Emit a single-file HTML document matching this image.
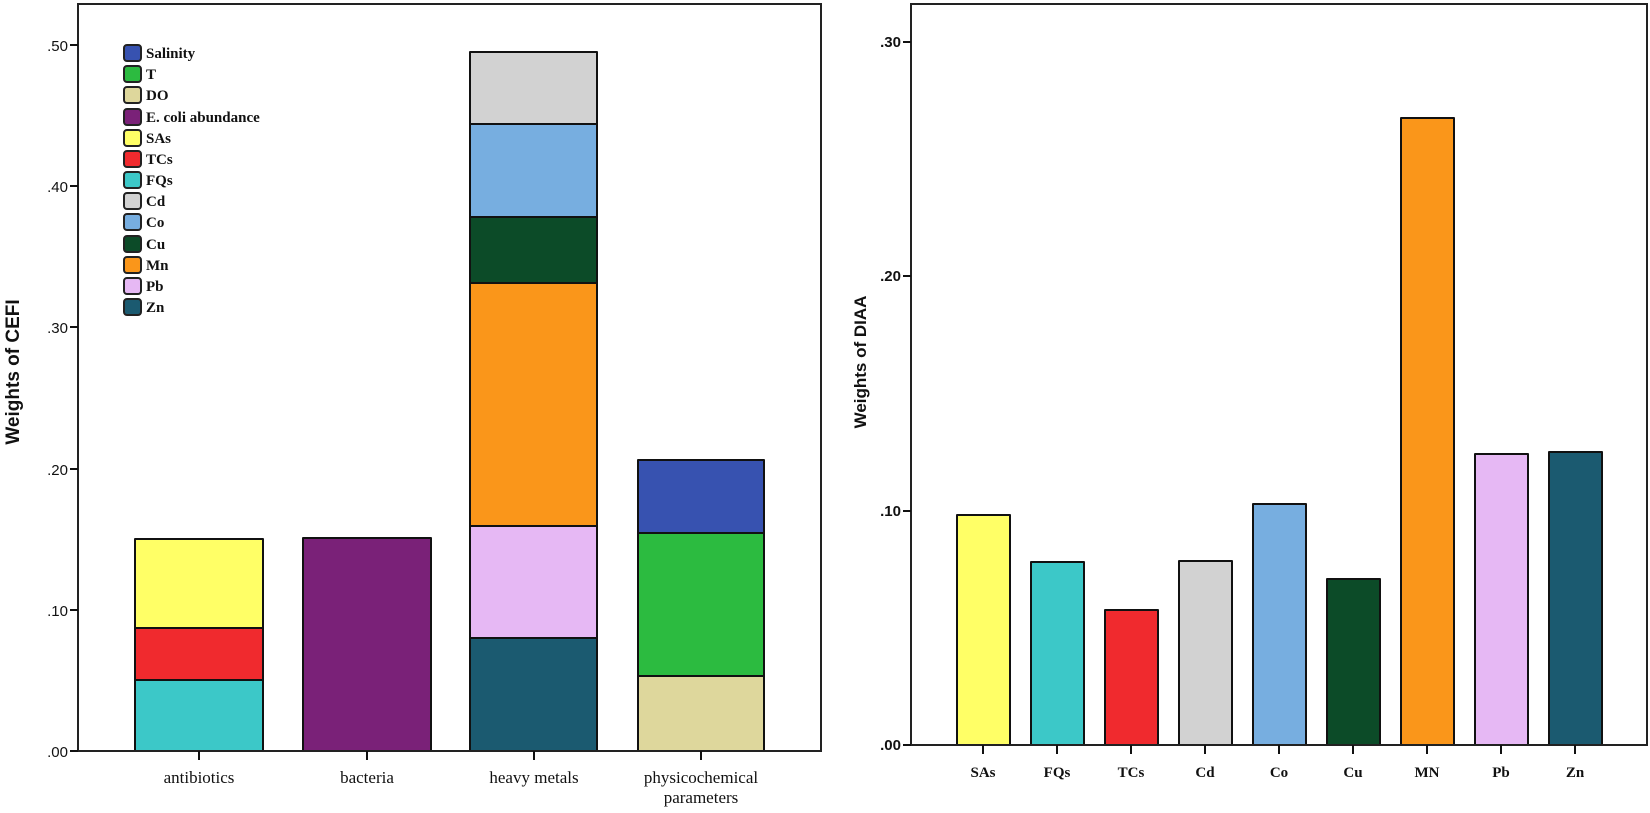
<!DOCTYPE html>
<html><head><meta charset="utf-8"><style>
html,body{margin:0;padding:0;background:#fff;}
svg{display:block}
.t{font-family:"Liberation Sans",sans-serif;font-size:15px;fill:#111;}
.s{font-family:"Liberation Serif",serif;font-size:16px;fill:#111;font-weight:bold;}
.c{font-family:"Liberation Serif",serif;font-size:17px;fill:#111;}
.l{font-family:"Liberation Serif",serif;font-size:15px;fill:#111;font-weight:bold;}
</style></head><body>
<svg width="1650" height="813" viewBox="0 0 1650 813" xmlns="http://www.w3.org/2000/svg">
<g stroke="#111" stroke-width="2" stroke-linejoin="round">
<rect x="135" y="680" width="128" height="71" fill="#3cc8c8"/>
<rect x="135" y="628" width="128" height="52" fill="#f02a2e"/>
<rect x="135" y="539" width="128" height="89" fill="#ffff66"/>
<rect x="303" y="538" width="128" height="213" fill="#7a2178"/>
<rect x="470" y="638" width="127" height="113" fill="#1b5a70"/>
<rect x="470" y="526" width="127" height="112" fill="#e6b8f4"/>
<rect x="470" y="283" width="127" height="243" fill="#fa961a"/>
<rect x="470" y="217" width="127" height="66" fill="#0c4b28"/>
<rect x="470" y="124" width="127" height="93" fill="#77aee0"/>
<rect x="470" y="52" width="127" height="72" fill="#d2d2d2"/>
<rect x="638" y="676" width="126" height="75" fill="#ded79c"/>
<rect x="638" y="533" width="126" height="143" fill="#2cbb40"/>
<rect x="638" y="460" width="126" height="73" fill="#3752b0"/>
</g>
<path d="M78 751 V4 H821 V751 H78" fill="none" stroke="#222" stroke-width="2"/>
<g stroke="#111" stroke-width="2">
<line x1="70" y1="45" x2="78" y2="45"/><line x1="70" y1="186" x2="78" y2="186"/>
<line x1="70" y1="327" x2="78" y2="327"/><line x1="70" y1="469" x2="78" y2="469"/>
<line x1="70" y1="610" x2="78" y2="610"/><line x1="70" y1="751" x2="78" y2="751"/>
<line x1="199" y1="751" x2="199" y2="760"/><line x1="367" y1="751" x2="367" y2="760"/>
<line x1="534" y1="751" x2="534" y2="760"/><line x1="701" y1="751" x2="701" y2="760"/>
</g>
<g class="t" text-anchor="end">
<text x="68" y="51">.50</text><text x="68" y="192">.40</text><text x="68" y="333">.30</text>
<text x="68" y="475">.20</text><text x="68" y="616">.10</text><text x="68" y="757">.00</text>
</g>
<g class="c" text-anchor="middle">
<text x="199" y="783">antibiotics</text><text x="367" y="783">bacteria</text>
<text x="534" y="783">heavy metals</text><text x="701" y="783">physicochemical</text>
<text x="701" y="803">parameters</text>
</g>
<text transform="translate(19,372) rotate(-90)" text-anchor="middle" style="font-family:'Liberation Sans',sans-serif;font-weight:bold;font-size:19px;fill:#111">Weights of CEFI</text>
<g stroke="#222" stroke-width="2">
<rect x="124" y="45" width="17" height="16" rx="3" fill="#3752b0"/>
<rect x="124" y="66" width="17" height="16" rx="3" fill="#2cbb40"/>
<rect x="124" y="87" width="17" height="16" rx="3" fill="#ded79c"/>
<rect x="124" y="109" width="17" height="16" rx="3" fill="#7a2178"/>
<rect x="124" y="130" width="17" height="16" rx="3" fill="#ffff66"/>
<rect x="124" y="151" width="17" height="16" rx="3" fill="#f02a2e"/>
<rect x="124" y="172" width="17" height="16" rx="3" fill="#3cc8c8"/>
<rect x="124" y="193" width="17" height="16" rx="3" fill="#d2d2d2"/>
<rect x="124" y="214" width="17" height="16" rx="3" fill="#77aee0"/>
<rect x="124" y="236" width="17" height="16" rx="3" fill="#0c4b28"/>
<rect x="124" y="257" width="17" height="16" rx="3" fill="#fa961a"/>
<rect x="124" y="278" width="17" height="16" rx="3" fill="#e6b8f4"/>
<rect x="124" y="299" width="17" height="16" rx="3" fill="#1b5a70"/>
</g>
<g class="l">
<text x="146" y="58">Salinity</text><text x="146" y="79">T</text><text x="146" y="100">DO</text>
<text x="146" y="122">E. coli abundance</text><text x="146" y="143">SAs</text><text x="146" y="164">TCs</text>
<text x="146" y="185">FQs</text><text x="146" y="206">Cd</text><text x="146" y="227">Co</text>
<text x="146" y="249">Cu</text><text x="146" y="270">Mn</text><text x="146" y="291">Pb</text>
<text x="146" y="312">Zn</text>
</g>
<g stroke="#111" stroke-width="2" stroke-linejoin="round">
<rect x="957" y="515" width="53" height="230" fill="#ffff66"/>
<rect x="1031" y="562" width="53" height="183" fill="#3cc8c8"/>
<rect x="1105" y="610" width="53" height="135" fill="#f02a2e"/>
<rect x="1179" y="561" width="53" height="184" fill="#d2d2d2"/>
<rect x="1253" y="504" width="53" height="241" fill="#77aee0"/>
<rect x="1327" y="579" width="53" height="166" fill="#0c4b28"/>
<rect x="1401" y="118" width="53" height="627" fill="#fa961a"/>
<rect x="1475" y="454" width="53" height="291" fill="#e6b8f4"/>
<rect x="1549" y="452" width="53" height="293" fill="#1b5a70"/>
</g>
<path d="M911 745 V4 H1647 V745 H911" fill="none" stroke="#222" stroke-width="2"/>
<g stroke="#111" stroke-width="2">
<line x1="903" y1="42" x2="911" y2="42"/><line x1="903" y1="276" x2="911" y2="276"/>
<line x1="903" y1="511" x2="911" y2="511"/><line x1="903" y1="745" x2="911" y2="745"/>
<line x1="983" y1="745" x2="983" y2="754"/><line x1="1057" y1="745" x2="1057" y2="754"/>
<line x1="1131" y1="745" x2="1131" y2="754"/><line x1="1205" y1="745" x2="1205" y2="754"/>
<line x1="1279" y1="745" x2="1279" y2="754"/><line x1="1353" y1="745" x2="1353" y2="754"/>
<line x1="1427" y1="745" x2="1427" y2="754"/><line x1="1501" y1="745" x2="1501" y2="754"/>
<line x1="1575" y1="745" x2="1575" y2="754"/>
</g>
<g class="t" text-anchor="end" style="font-size:15px;font-weight:bold">
<text x="901" y="47">.30</text><text x="901" y="281">.20</text>
<text x="901" y="516">.10</text><text x="901" y="750">.00</text>
</g>
<g class="s" text-anchor="middle" style="font-size:15px">
<text x="983" y="777">SAs</text><text x="1057" y="777">FQs</text><text x="1131" y="777">TCs</text>
<text x="1205" y="777">Cd</text><text x="1279" y="777">Co</text><text x="1353" y="777">Cu</text>
<text x="1427" y="777">MN</text><text x="1501" y="777">Pb</text><text x="1575" y="777">Zn</text>
</g>
<text transform="translate(866,362) rotate(-90)" text-anchor="middle" style="font-family:'Liberation Sans',sans-serif;font-weight:bold;font-size:17px;fill:#111">Weights of DIAA</text>
</svg>
</body></html>
